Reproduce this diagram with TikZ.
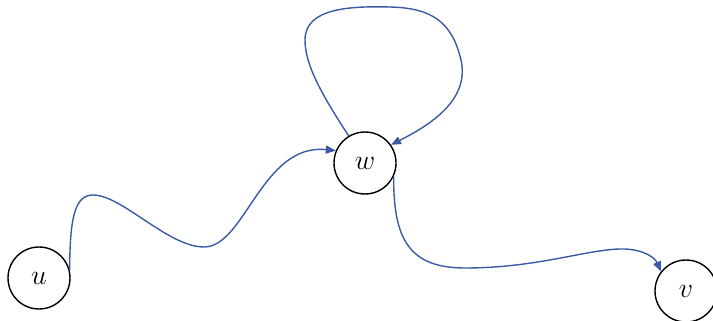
\documentclass[tikz,border=0pt]{standalone}
\usepackage{fix-cm}
\usepackage{xcolor}
\usepackage{tikz}
\usetikzlibrary{arrows.meta}
\definecolor{EdgeBlue}{HTML}{3A5BA3}

\begin{document}
\begin{tikzpicture}[
  x=1pt,y=-1pt,
  vert/.style={draw=black,circle,line width=1.4pt,minimum size=62pt,inner sep=0pt,fill=white,font=\fontsize{28}{32}\selectfont},
  arr/.style={-{Triangle[length=10pt,width=8pt]},line width=1.4pt,draw=EdgeBlue}
]
\useasboundingbox (0,0) rectangle (713,321);
\node[vert] (u) at (39,278) {$u$};
\node[vert] (w) at (365,163) {$w$};
\node[vert] (v) at (686,291) {$v$};
% u to w, wavy
\draw[arr] (u.15) .. controls (70,220) and (74,195) .. (93,195)
  .. controls (122,195) and (168,247) .. (204,247)
  .. controls (245,247) and (262,143) .. (w.157);
% loop on w
\draw[arr] (w.121) .. controls (322,95) and (305,65) .. (305,40)
  .. controls (305,8) and (350,6) .. (390,7)
  .. controls (432,8) and (452,22) .. (461,60)
  .. controls (470,100) and (430,125) .. (w.35);
% w to v
\draw[arr] (w.-25) .. controls (393,240) and (410,268) .. (465,268)
  .. controls (540,268) and (590,248) .. (625,249)
  .. controls (645,250) and (655,258) .. (v.142);
\end{tikzpicture}
\end{document}
